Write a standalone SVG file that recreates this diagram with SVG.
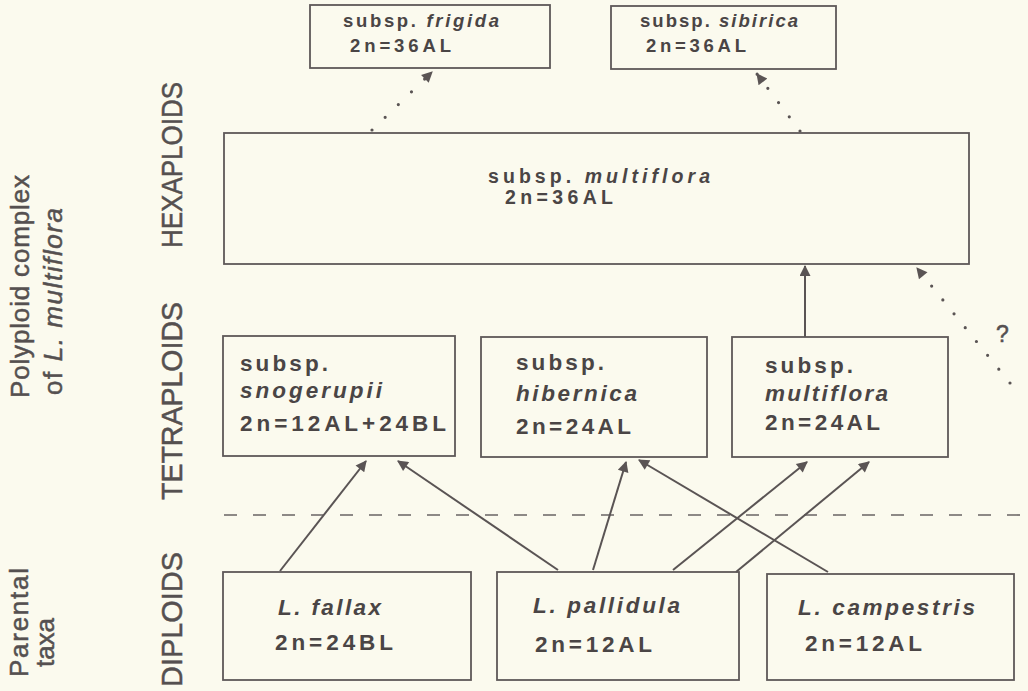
<svg xmlns="http://www.w3.org/2000/svg" width="1028" height="691" viewBox="0 0 1028 691">
<defs>
<style>
.bg{fill:#fbfaee}
.box{fill:none;stroke:#5e5858;stroke-width:1.8}
.t{font-family:"Liberation Sans",Arial,Helvetica,sans-serif;fill:#4a4545;font-weight:bold}
.i{font-style:italic}
.lbl{font-family:"Liberation Sans",Arial,Helvetica,sans-serif;fill:#555050;stroke:#555050;stroke-width:0.5}
.arr{fill:none;stroke:#5a5454;stroke-width:2}
.dot{fill:none;stroke:#5a5454;stroke-width:3.2;stroke-linecap:round}
.dash{fill:none;stroke:#6a6464;stroke-width:1.6;stroke-dasharray:13 16}
</style>
<marker id="ah" viewBox="0 0 10 10" refX="9" refY="5" markerUnits="userSpaceOnUse" markerWidth="15" markerHeight="11" orient="auto">
<path d="M0,0 L10,5 L0,10 z" fill="#5a5454"/>
</marker>
</defs>
<rect class="bg" x="0" y="0" width="1028" height="691"/>

<g id="side-labels">
<text class="lbl" font-size="26" transform="translate(29,398) rotate(-90)" textLength="223" lengthAdjust="spacing">Polyploid complex</text>
<text class="lbl" font-size="26" transform="translate(62,395) rotate(-90)" textLength="187" lengthAdjust="spacing">of <tspan font-style="italic">L. multiflora</tspan></text>
<text class="lbl" font-size="26" transform="translate(28,677) rotate(-90)" textLength="109" lengthAdjust="spacing">Parental</text>
<text class="lbl" font-size="26" transform="translate(54,667) rotate(-90)" textLength="49" lengthAdjust="spacing">taxa</text>
<text class="lbl" font-size="30" transform="translate(182,248) rotate(-90)" textLength="166" lengthAdjust="spacingAndGlyphs">HEXAPLOIDS</text>
<text class="lbl" font-size="30" transform="translate(182,500) rotate(-90)" textLength="198" lengthAdjust="spacingAndGlyphs">TETRAPLOIDS</text>
<text class="lbl" font-size="30" transform="translate(182,687) rotate(-90)" textLength="135" lengthAdjust="spacingAndGlyphs">DIPLOIDS</text>
</g>

<g id="connectors">
<line class="dash" x1="224" y1="515" x2="1022" y2="515"/>
<path class="arr" d="M280,571 L366,461" marker-end="url(#ah)"/>
<path class="arr" d="M558,570 L398,461" marker-end="url(#ah)"/>
<path class="arr" d="M593,570 L626,462" marker-end="url(#ah)"/>
<path class="arr" d="M828,572 L639,460" marker-end="url(#ah)"/>
<path class="arr" d="M673,570 L807,462" marker-end="url(#ah)"/>
<path class="arr" d="M736,572 L869,462" marker-end="url(#ah)"/>
<path class="arr" d="M805,337 L805,266" marker-end="url(#ah)"/>
<path class="dot" d="M372,130 L432,72" stroke-dasharray="0 18.3" marker-end="url(#ah)"/>
<path class="dot" d="M800,131 L757,74" stroke-dasharray="0 17.8" marker-end="url(#ah)"/>
<path class="dot" d="M1010,383 L917,268" stroke-dasharray="0 17.8" marker-end="url(#ah)"/>
<text class="lbl" font-size="23" x="996" y="342">?</text>
</g>

<g id="node-frigida">
<rect class="box" x="310" y="5" width="240" height="63"/>
<text class="t" font-size="18.5" x="343" y="27" textLength="156">subsp. <tspan class="i">frigida</tspan></text>
<text class="t" font-size="18.5" x="350" y="52" textLength="101">2n=36AL</text>
</g>

<g id="node-sibirica">
<rect class="box" x="611" y="6" width="225" height="63"/>
<text class="t" font-size="18.5" x="640" y="27" textLength="158">subsp. <tspan class="i">sibirica</tspan></text>
<text class="t" font-size="18.5" x="646" y="52" textLength="100">2n=36AL</text>
</g>

<g id="node-hexa-multiflora">
<rect class="box" x="224" y="133" width="745" height="131"/>
<text class="t" font-size="19.5" x="488" y="183" textLength="222">subsp. <tspan class="i">multiflora</tspan></text>
<text class="t" font-size="19.5" x="505" y="204" textLength="108">2n=36AL</text>
</g>

<g id="node-snogerupii">
<rect class="box" x="223" y="336" width="232" height="120"/>
<text class="t" font-size="22.5" x="240" y="371" textLength="88">subsp.</text>
<text class="t i" font-size="22.5" x="240" y="398" textLength="142">snogerupii</text>
<text class="t" font-size="22.5" x="240" y="431" textLength="206">2n=12AL+24BL</text>
</g>

<g id="node-hibernica">
<rect class="box" x="481" y="337" width="226" height="120"/>
<text class="t" font-size="22.5" x="516" y="370" textLength="88">subsp.</text>
<text class="t i" font-size="22.5" x="516" y="401" textLength="121">hibernica</text>
<text class="t" font-size="22.5" x="516" y="434" textLength="115">2n=24AL</text>
</g>

<g id="node-tetra-multiflora">
<rect class="box" x="732" y="337" width="216" height="120"/>
<text class="t" font-size="22.5" x="765" y="373" textLength="88">subsp.</text>
<text class="t i" font-size="22.5" x="765" y="401" textLength="123">multiflora</text>
<text class="t" font-size="22.5" x="765" y="430" textLength="115">2n=24AL</text>
</g>

<g id="node-fallax">
<rect class="box" x="223" y="572" width="248" height="108"/>
<text class="t i" font-size="22.5" x="278" y="615" textLength="103">L. fallax</text>
<text class="t" font-size="22.5" x="275" y="650" textLength="118">2n=24BL</text>
</g>

<g id="node-pallidula">
<rect class="box" x="497" y="572" width="242" height="108"/>
<text class="t i" font-size="22.5" x="533" y="613" textLength="147">L. pallidula</text>
<text class="t" font-size="22.5" x="535" y="652" textLength="117">2n=12AL</text>
</g>

<g id="node-campestris">
<rect class="box" x="767" y="574" width="247" height="106"/>
<text class="t i" font-size="22.5" x="798" y="615" textLength="177">L. campestris</text>
<text class="t" font-size="22.5" x="805" y="651" textLength="117">2n=12AL</text>
</g>
</svg>
